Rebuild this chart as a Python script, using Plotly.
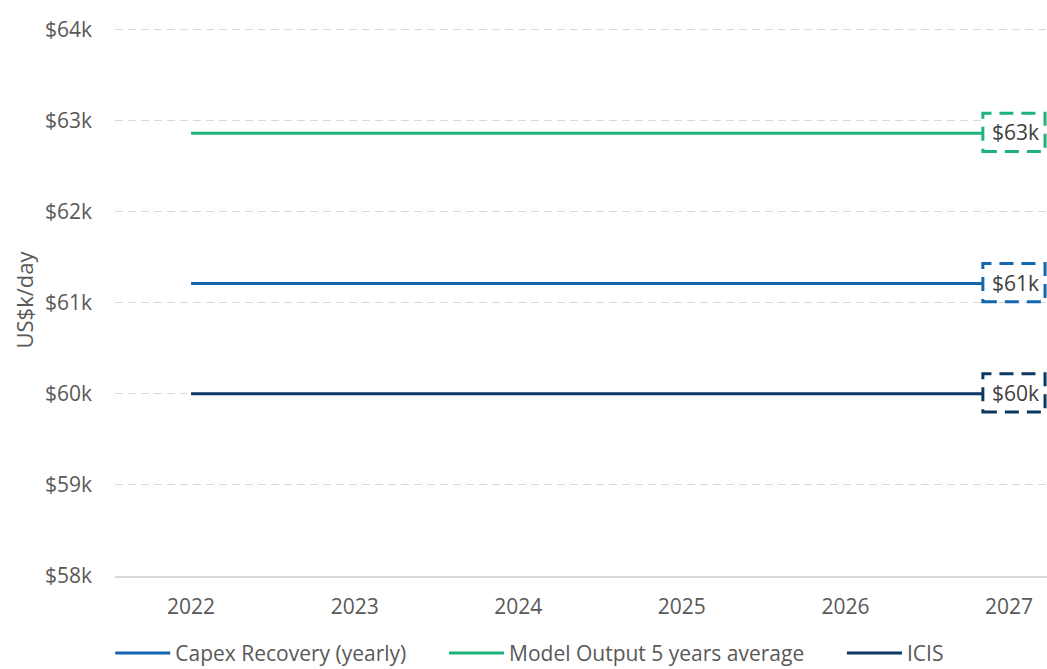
import plotly.graph_objects as go

years = [2022, 2023, 2024, 2025, 2026, 2027]
capex_recovery = [61.21, 61.21, 61.21, 61.21, 61.21, 61.21]
model_output = [62.86, 62.86, 62.86, 62.86, 62.86, 62.86]
icis = [60.0, 60.0, 60.0, 60.0, 60.0, 60.0]
y_ticks = [58, 59, 60, 61, 62, 63, 64]
y_tick_labels = ["$58k", "$59k", "$60k", "$61k", "$62k", "$63k", "$64k"]

PAD = "\u00a0" * 6
series = [
    ("Capex Recovery (yearly)", PAD, capex_recovery, "#1366B0", "$61k"),
    ("Model Output 5 years average", PAD, model_output, "#1DB37A", "$63k"),
    ("ICIS", "", icis, "#0B3961", "$60k"),
]

FONT = "Open Sans, Lato, sans-serif"
FS = 21
fig = go.Figure()
for name, pad, vals, color, lab in series:
    fig.add_trace(go.Scatter(x=years, y=vals, name=name + pad, mode="lines",
                             line=dict(color=color, width=3)))

# end-of-line labels with dashed borders
for name, pad, vals, color, lab in series:
    xv = years[-1]
    yv = vals[-1]
    fig.add_shape(type="rect", xref="x", yref="y",
                  x0=xv - 0.16, x1=xv + 0.22, y0=yv - 0.20, y1=yv + 0.22,
                  line=dict(color=color, width=3, dash="14px,8px"),
                  fillcolor="white", layer="above")
    fig.add_annotation(x=xv + 0.04, y=yv + 0.01, xref="x", yref="y", text=lab,
                       showarrow=False, font=dict(size=21, color="#404040", family=FONT))

fig.update_layout(
    width=1047, height=669,
    margin=dict(l=115, r=0, t=24, b=93, autoexpand=False),
    paper_bgcolor="white", plot_bgcolor="white",
    font=dict(family=FONT, size=FS, color="#595959"),
    showlegend=True,
    legend=dict(orientation="h", x=0.445, xanchor="center",
                yref="container", y=0.054, yanchor="top",
                font=dict(size=FS, color="#595959"), itemwidth=55,
                tracegroupgap=0, traceorder="normal"),
    xaxis=dict(range=[2021.535, 2027.232], tickvals=years,
               ticktext=[str(y) for y in years], showgrid=False,
               showline=True, linecolor="#D9D9D9", linewidth=1.5,
               ticks="", zeroline=False, ticklabelstandoff=11),
    yaxis=dict(range=[58, 64.06], tickvals=y_ticks, ticktext=y_tick_labels,
               showgrid=True, gridcolor="#D9D9D9", gridwidth=1, griddash="8px,5px",
               zeroline=False, showline=False, ticks="", ticklabelstandoff=22,
               title=dict(text="US$k/day", font=dict(size=22, color="#595959"), standoff=5)),
)

fig.write_html("out.html")
